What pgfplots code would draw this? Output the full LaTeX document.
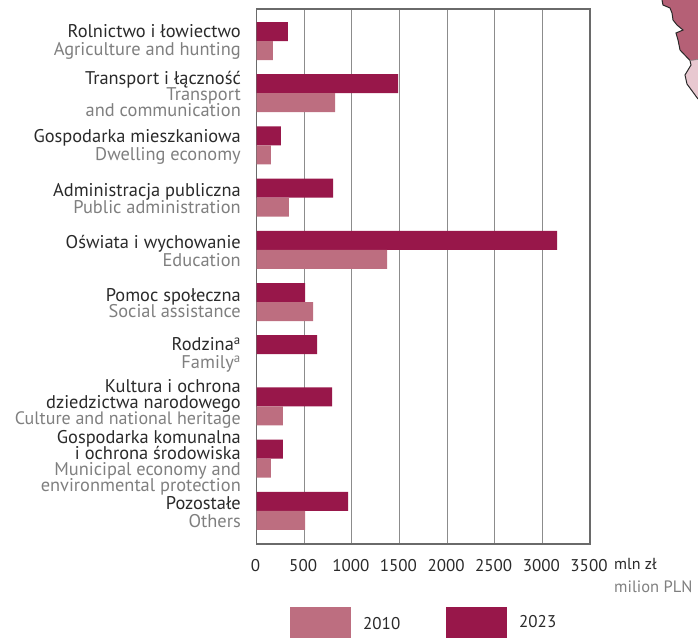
\documentclass[border=0pt]{standalone}
\usepackage{fontspec}
\setmainfont{PT Sans}
\usepackage{pgfplots}
\pgfplotsset{compat=1.18}
\definecolor{dark}{HTML}{98174A}
\definecolor{light}{HTML}{BD6E80}
\definecolor{txt}{HTML}{2A2A2A}
\definecolor{sub}{HTML}{7F7F7F}
\definecolor{frame}{HTML}{6A6A6A}
\definecolor{gridc}{HTML}{8C8C8C}
\newcommand{\pl}[1]{\textcolor{txt}{#1}}
\newcommand{\en}[1]{\textcolor{sub}{#1}}
\begin{document}
\begin{tikzpicture}[x=1pt,y=-1pt]
\lineskiplimit=-30pt\relax
\path[use as bounding box] (0,0) rectangle (698,638);
% map fragment
\begin{scope}
\clip (0,0) rectangle (698,638);
\fill[color={rgb,255:red,232;green,200;blue,208}] (690,60.5) -- (698,59.5) -- (698,99) -- (687,84) -- (685,75) -- (691,65) -- cycle;
\fill[color={rgb,255:red,181;green,96;blue,118}] (662,0) -- (663,5) -- (670,8) -- (672,13) -- (673,20) -- (677,25) -- (683,30) -- (676,33) -- (678,40) -- (680,50) -- (690,60.5) -- (698,59.5) -- (698,0) -- cycle;
\draw[color={rgb,255:red,40;green,40;blue,40},line width=1pt] (662,0) -- (663,5) -- (670,8) -- (672,13) -- (673,20) -- (677,25) -- (683,30) -- (676,33) -- (678,40) -- (680,50) -- (690,60.5) -- (691,65) -- (685,75) -- (687,84) -- (698,99);
\draw[color=gray,line width=0.6pt] (690,60.5) -- (698,59.5);
\end{scope}
\begin{axis}[
  at={(256.5pt,-544pt)}, anchor=south west,
  scale only axis, width=333.5pt, height=535pt,
  xmin=0, xmax=3500, ymin=-0.613, ymax=9.636,
  y dir=reverse,
  xbar, bar width=19pt,
  xtick={0,500,...,3500},
  /pgf/number format/assume math mode=true,
  /pgf/number format/1000 sep={},
  xmajorgrids, grid style={gridc,line width=0.9pt},
  axis line style={frame,line width=1.1pt},
  major tick length=0pt,
  ytick={0,...,9},
  xticklabel style={font=\fontsize{17}{17}\selectfont,text=txt,inner sep=0pt,yshift=-15pt,xshift=-1pt},
  yticklabel style={font=\fontsize{18.4}{16}\selectfont,align=right,anchor=east,inner sep=0pt,xshift=-15.5pt,yshift=-1pt},
  yticklabels={
    {\pl{Rolnictwo i łowiectwo}\\[2pt]\en{Agriculture and hunting}},
    {\pl{Transport i łączność}\\\en{Transport}\\\en{and communication}},
    {\pl{Gospodarka mieszkaniowa}\\[2pt]\en{Dwelling economy}},
    {\pl{Administracja publiczna}\\[1pt]\en{Public administration}},
    {\pl{Oświata i wychowanie}\\[2pt]\en{Education}},
    {\pl{Pomoc społeczna}\\\en{Social assistance}},
    {\pl{Rodzina\textsuperscript{a}}\\[2pt]\en{Family\textsuperscript{a}}},
    {\pl{Kultura i ochrona}\\\pl{dziedzictwa narodowego}\\\en{\fontsize{18}{16}\selectfont Culture and national heritage\rule[-11pt]{0pt}{1pt}}},
    {\pl{\rule{0pt}{19pt}Gospodarka komunalna}\\\pl{i ochrona środowiska}\\\en{Municipal economy and}\\\en{environmental protection}},
    {\pl{Pozostałe}\\[2pt]\en{Others}}
  },
]
\addplot[fill=dark,draw=none,bar shift=9.5pt] coordinates {
 (330,0) (1485,1) (257,2) (803,3) (3155,4) (509,5) (635,6) (793,7) (278,8) (961,9)};
\addplot[fill=light,draw=none,bar shift=-9.5pt] coordinates {
 (173,0) (824,1) (152,2) (341,3) (1370,4) (593,5) (278,7) (152,8) (509,9)};
\end{axis}
\node[anchor=base west,inner sep=0pt,text=txt,font=\fontsize{16}{16}\selectfont] at (614,569) {mln zł};
\node[anchor=base west,inner sep=0pt,text=sub,font=\fontsize{16.5}{16}\selectfont] at (614,592) {milion PLN};
\fill[light] (290,607) rectangle (351,638);
\fill[dark] (446,607) rectangle (507,638);
\node[anchor=base west,inner sep=0pt,text=txt,font=\fontsize{17}{16}\selectfont] at (363,629) {2010};
\node[anchor=base west,inner sep=0pt,text=txt,font=\fontsize{17}{16}\selectfont] at (519,627) {2023};
\end{tikzpicture}
\end{document}
